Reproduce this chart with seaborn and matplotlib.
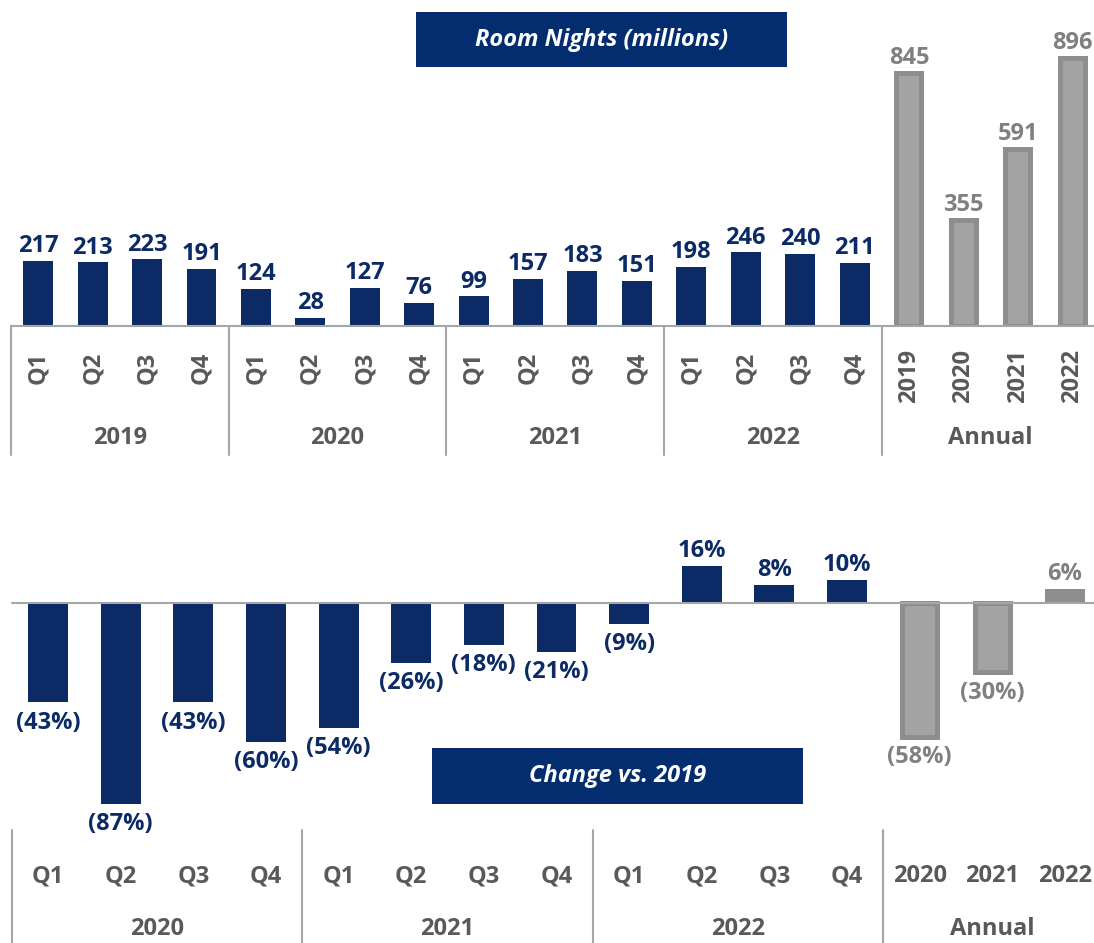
import seaborn as sns
import matplotlib.pyplot as plt
import pandas as pd
from matplotlib.patches import Rectangle
from matplotlib.transforms import blended_transform_factory

# data
quarters = ['Q1', 'Q2', 'Q3', 'Q4']
years_q = ['2019', '2020', '2021', '2022']
room_nights_q = [217, 213, 223, 191, 124, 28, 127, 76, 99, 157, 183, 151, 198, 246, 240, 211]
annual_years = ['2019', '2020', '2021', '2022']
room_nights_annual = [845, 355, 591, 896]

change_years_q = ['2020', '2021', '2022']
change_q = [-43, -87, -43, -60, -54, -26, -18, -21, -9, 16, 8, 10]
change_annual_years = ['2020', '2021', '2022']
change_annual = [-58, -30, 6]

NAVY = '#0B2A66'
GRAY_EDGE = '#8E8E8E'
GRAY_FILL = '#A3A3A3'
GRAY_TXT = '#808080'
TICK_TXT = '#595959'
LINE = '#A6A6A6'
FS = 17

sns.set_style('white')
plt.rcParams['font.family'] = ['Open Sans', 'DejaVu Sans']
plt.rcParams['font.weight'] = 'bold'

W, H = 1094, 943
fig = plt.figure(figsize=(W / 100, H / 100), dpi=100)


def fy(py):
    return 1 - py / H


def build_frame(years, values, ann_years, ann_values):
    labels, kinds, vals = [], [], []
    for i, v in enumerate(values):
        labels.append(years[i // 4] + ' ' + quarters[i % 4])
        kinds.append('q')
        vals.append(v)
    for y, v in zip(ann_years, ann_values):
        labels.append('A ' + y)
        kinds.append('a')
        vals.append(v)
    return pd.DataFrame({'label': labels, 'kind': kinds, 'value': vals})


def draw_bars(ax, df, px_per_unit, fmt):
    sns.barplot(data=df, x='label', y='value', hue='kind', palette={'q': NAVY, 'a': GRAY_FILL},
                dodge=False, width=0.55, legend=False, ax=ax, saturation=1)
    shrink = 5 / px_per_unit
    for cont, kind in zip(ax.containers, ['q', 'a']):
        for p in cont:
            v = p.get_height()
            if v is None or pd.isna(v):
                continue
            if kind == 'a':
                p.set_edgecolor(GRAY_EDGE)
                p.set_linewidth(3.6 if abs(v) > 10 else 0)
                if abs(v) > 10:
                    p.set_x(p.get_x() + shrink / 2)
                    p.set_width(p.get_width() - shrink)
                else:
                    p.set_facecolor(GRAY_EDGE)
                color = GRAY_TXT
            else:
                p.set_linewidth(0)
                color = NAVY
            cx = p.get_x() + p.get_width() / 2
            if v >= 0:
                ax.annotate(fmt(v), (cx, v), xytext=(0, 2), textcoords='offset points',
                            ha='center', va='bottom', fontsize=FS, fontweight='bold', color=color)
            else:
                ax.annotate(fmt(v), (cx, v), xytext=(0, -6), textcoords='offset points',
                            ha='center', va='top', fontsize=FS, fontweight='bold', color=color)


# ---------- top chart: room nights ----------
ax1 = fig.add_axes([11 / W, fy(326), 1083 / W, 321 / H])
df1 = build_frame(years_q, room_nights_q, annual_years, room_nights_annual)
draw_bars(ax1, df1, 54.4, lambda v: f'{v:.0f}')
ax1.set_xlim(-0.5, 19.4)
ax1.set_ylim(0, 321 / 0.2991)
ax1.axis('off')
ax1.axhline(0, color=LINE, lw=1.5, clip_on=False)

tr1 = blended_transform_factory(ax1.transData, fig.transFigure)
n1 = len(room_nights_q)
tick_labels1 = [quarters[i % 4] for i in range(n1)] + annual_years
for i, t in enumerate(tick_labels1):
    ax1.text(i, fy(368 if i < n1 else 376), t, transform=tr1, rotation=90, ha='center', va='center',
             fontsize=FS, fontweight='bold', color=TICK_TXT)
groups1 = years_q + ['Annual']
for g, name in enumerate(groups1):
    ax1.text(g * 4 + 1.5, fy(438), name, transform=tr1, ha='center', va='center',
             fontsize=FS, fontweight='bold', color=TICK_TXT)
for b in [-0.5, 3.5, 7.5, 11.5, 15.5]:
    ax1.plot([b, b], [fy(326), fy(455)], transform=tr1, color=LINE, lw=1.5, clip_on=False)

# ---------- bottom chart: change vs 2019 ----------
ax2 = fig.add_axes([11.7 / W, fy(830), (W - 11.7) / W, 360 / H])
df2 = build_frame(change_years_q, change_q, change_annual_years, change_annual)
draw_bars(ax2, df2, 72.6, lambda v: f'({abs(v):.0f}%)' if v < 0 else f'{v:.0f}%')
ax2.set_xlim(-0.5, 14.4)
ax2.set_ylim(-(830 - 603) / 2.31, (603 - 470) / 2.31)
ax2.axis('off')
ax2.axhline(0, color=LINE, lw=1.5, clip_on=False)

tr2 = blended_transform_factory(ax2.transData, fig.transFigure)
n2 = len(change_q)
tick_labels2 = [quarters[i % 4] for i in range(n2)] + change_annual_years
for i, t in enumerate(tick_labels2):
    ax2.text(i, fy(876), t, transform=tr2, ha='center', va='center',
             fontsize=FS, fontweight='bold', color=TICK_TXT)
groups2 = change_years_q + ['Annual']
group_centers2 = [1.5, 5.5, 9.5, 13.0]
for c, name in zip(group_centers2, groups2):
    ax2.text(c, fy(929), name, transform=tr2, ha='center', va='center',
             fontsize=FS, fontweight='bold', color=TICK_TXT)
for b in [-0.5, 3.5, 7.5, 11.5]:
    ax2.plot([b, b], [fy(830), fy(943)], transform=tr2, color=LINE, lw=1.5, clip_on=False)

# ---------- title boxes ----------
for (x0, y0, x1, y1), title in [((416, 12, 787, 67), 'Room Nights (millions)'),
                                ((432, 748, 803, 804), 'Change vs. 2019')]:
    fig.add_artist(Rectangle((x0 / W, fy(y1)), (x1 - x0) / W, (y1 - y0) / H,
                             transform=fig.transFigure, facecolor='#032D6E', edgecolor='none'))
    fig.text((x0 + x1) / 2 / W, fy((y0 + y1) / 2), title, ha='center', va='center',
             color='white', fontsize=FS, fontweight='bold', fontstyle='italic')

fig.savefig('out.png', dpi=100)
